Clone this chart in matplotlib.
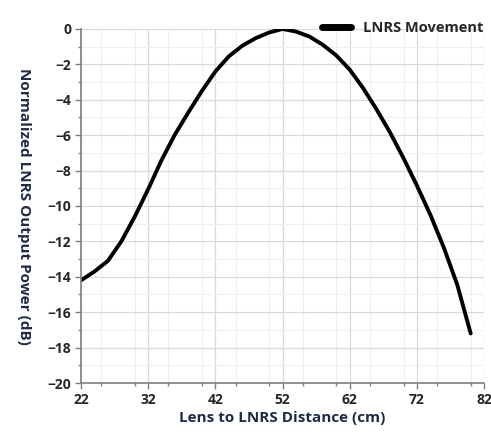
import numpy as np
import matplotlib.pyplot as plt
from matplotlib.ticker import MultipleLocator

# lens to LNRS distance (cm) and normalized output power (dB)
distance = [22, 24, 26, 28, 30, 32, 34, 36, 38, 40, 42, 44, 46, 48, 50,
            52, 54, 56, 58, 60, 62, 64, 66, 68, 70, 72, 74, 76, 78, 80]
power_db = [-14.2, -13.7, -13.1, -12.0, -10.6, -9.05, -7.4, -5.95, -4.7, -3.5,
            -2.4, -1.55, -0.95, -0.52, -0.2, 0.0, -0.15, -0.43, -0.9, -1.5,
            -2.3, -3.35, -4.55, -5.85, -7.3, -8.85, -10.5, -12.35, -14.45, -17.2]

xticks = [22, 32, 42, 52, 62, 72, 82]
yticks = list(range(-20, 1, 2))

plt.rcParams['font.family'] = ['Open Sans', 'DejaVu Sans']
plt.rcParams['font.weight'] = 'bold'

fig = plt.figure(figsize=[4.91, 4.32], dpi=100)
ax = fig.add_axes([0.165, 0.1134, 0.821, 0.8196])

ax.plot(distance, power_db, c='black', lw=2.8, label='LNRS Movement',
        solid_joinstyle='round', solid_capstyle='round')

ax.set_xlim(22, 82)
ax.set_ylim(-20, 0)
ax.set_xticks(xticks)
ax.set_yticks(yticks)
ax.set_yticklabels([str(v).replace('-', '\u2212') for v in yticks])
ax.xaxis.set_minor_locator(MultipleLocator(5))
ax.yaxis.set_minor_locator(MultipleLocator(1))

ax.grid(which='major', color='#d9d9d9', lw=0.9)
ax.grid(which='minor', color='#efefef', lw=0.8)
ax.set_axisbelow(True)

for s in ['top', 'right']:
    ax.spines[s].set_visible(False)
for s in ['left', 'bottom']:
    ax.spines[s].set_color('#7f7f7f')
    ax.spines[s].set_linewidth(1.2)

ax.tick_params(which='major', length=4, width=1, color='#7f7f7f',
               labelsize=10, labelcolor='#262626', pad=3)
ax.tick_params(which='minor', length=2.5, width=1, color='#7f7f7f')

ax.set_xlabel('Lens to LNRS Distance (cm)', fontsize=11, fontweight='bold',
              color='#1f2a44', labelpad=3)
ax.set_ylabel('Normalized LNRS Output Power (dB)', fontsize=11, fontweight='bold',
              color='#1f2a44', rotation=270, va='center')
ax.yaxis.set_label_coords(-0.142, 0.5)

ax.legend(loc='lower right', bbox_to_anchor=(1.0, 0.98), frameon=False,
          fontsize=10.5, handlelength=2.0, handletextpad=0.8,
          borderaxespad=0, borderpad=0.05, labelcolor='#262626')
leg = ax.get_legend()
for h in leg.legend_handles:
    h.set_linewidth(5)

plt.savefig("out.png", dpi=100)
